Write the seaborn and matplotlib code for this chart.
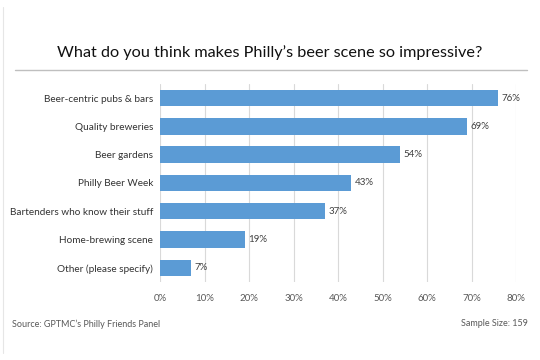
import matplotlib
matplotlib.use("Agg")
import matplotlib.pyplot as plt
import seaborn as sns
import pandas as pd

categories = ["Beer-centric pubs & bars", "Quality breweries", "Beer gardens",
              "Philly Beer Week", "Bartenders who know their stuff",
              "Home-brewing scene", "Other (please specify)"]
shares = [76, 69, 54, 43, 37, 19, 7]
ticks = [0, 10, 20, 30, 40, 50, 60, 70, 80]

df = pd.DataFrame({"answer": categories, "share": shares})

sns.set_style("white")
plt.rcParams["font.family"] = ["Lato", "DejaVu Sans"]

fig = plt.figure(figsize=(5.4, 3.6), dpi=100)
ax = fig.add_axes([0.2963, 0.2167, 0.6593, 0.55])

sns.barplot(data=df, x="share", y="answer", color="#5B9BD5", saturation=1,
            width=0.58, linewidth=0, ax=ax, zorder=3)

ax.set_xlim(0, 80)
ax.set_xticks(ticks)
ax.set_xticklabels([f"{t}%" for t in ticks], fontsize=7, color="#595959")
ax.tick_params(axis="y", labelsize=7.2, labelcolor="#333333", length=0, pad=5)
ax.tick_params(axis="x", length=0, pad=9)
ax.set_xlabel("")
ax.set_ylabel("")
ax.grid(axis="x", color="#d9d9d9", linewidth=0.8, zorder=0)
for s in ax.spines.values():
    s.set_visible(False)

for i, v in enumerate(shares):
    ax.text(v + 0.8, i, f"{v}%", va="center", ha="left", fontsize=7, color="#404040")

fig.text(0.5, 0.853, "What do you think makes Philly\u2019s beer scene so impressive?",
         ha="center", va="center", fontsize=11.7, color="#111111")
fig.add_artist(plt.Line2D([15 / 540, 527 / 540], [1 - 70 / 360] * 2,
                          color="#bfbfbf", linewidth=1))
fig.add_artist(plt.Line2D([3 / 540, 3 / 540], [0.02, 0.98],
                          color="#e6e6e6", linewidth=0.8))
fig.text(12 / 540, 1 - 324 / 360, "Source: GPTMC\u2019s Philly Friends Panel",
         ha="left", va="center", fontsize=6.5, color="#595959")
fig.text(528 / 540, 1 - 324 / 360, "Sample Size: 159",
         ha="right", va="center", fontsize=6.5, color="#595959")

fig.savefig("out.png", dpi=100, facecolor="white")
